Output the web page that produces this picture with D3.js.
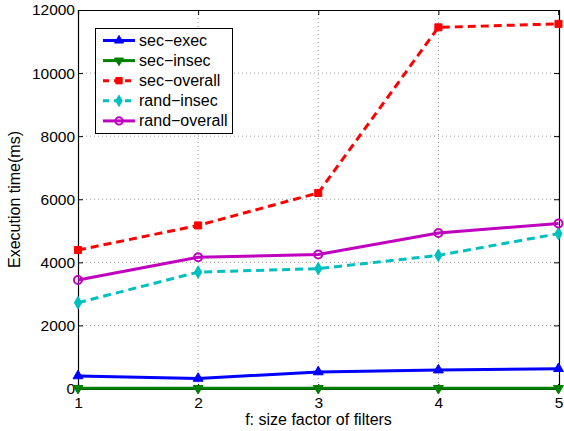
<!DOCTYPE html>
<html>
<head>
<meta charset="utf-8">
<script src="https://cdn.jsdelivr.net/npm/d3@7"></script>
<style>
  body { margin: 0; background: #fff; }
  text { font-family: "Liberation Sans", Arial, sans-serif; }
</style>
</head>
<body>
<div id="chart"></div>
<script>
// data
var factors = [1, 2, 3, 4, 5];
var secExec = [400, 320, 525, 585, 630];
var secInsec = [5, 5, 5, 5, 5];
var secOverall = [4390, 5170, 6200, 11450, 11560];
var randInsec = [2720, 3690, 3800, 4220, 4910];
var randOverall = [3440, 4160, 4250, 4930, 5230];
var yTicks = [0, 2000, 4000, 6000, 8000, 10000, 12000];

var series = [
  { name: "sec\u2212exec", values: secExec, color: "#0000ff", dash: null, marker: "up" },
  { name: "sec\u2212insec", values: secInsec, color: "#007f00", dash: null, marker: "down" },
  { name: "sec\u2212overall", values: secOverall, color: "#ff0000", dash: "8,5", marker: "square" },
  { name: "rand\u2212insec", values: randInsec, color: "#00bfbf", dash: "8,5", marker: "diamond" },
  { name: "rand\u2212overall", values: randOverall, color: "#bf00bf", dash: null, marker: "circle" }
];

var W = 564, H = 431;
var margin = { top: 10, right: 5, bottom: 42, left: 78 },
    width = W - margin.left - margin.right,
    height = H - margin.top - margin.bottom;

var svg = d3.select("#chart").append("svg")
    .attr("width", W)
    .attr("height", H)
    .append("g")
    .attr("transform", "translate(" + margin.left + "," + margin.top + ")");

var x = d3.scaleLinear().domain([1, 5]).range([0, width - 0.5]);
var y = d3.scaleLinear().domain([0, 12000]).range([height - 0.5, 0]);

// grid (dotted)
svg.append("g").selectAll("line")
    .data(factors.slice(1, -1))
    .enter().append("line")
    .attr("x1", function (d) { return x(d); })
    .attr("x2", function (d) { return x(d); })
    .attr("y1", 0).attr("y2", height)
    .attr("stroke", "#999").attr("stroke-width", 1).attr("stroke-dasharray", "1,3");
svg.append("g").selectAll("line")
    .data(yTicks.slice(1, -1))
    .enter().append("line")
    .attr("y1", function (d) { return y(d); })
    .attr("y2", function (d) { return y(d); })
    .attr("x1", 0).attr("x2", width)
    .attr("stroke", "#999").attr("stroke-width", 1).attr("stroke-dasharray", "1,3");

// axes, ticks inside
svg.append("g")
    .attr("transform", "translate(0," + height + ")")
    .call(d3.axisBottom(x).tickValues(factors).tickFormat(d3.format("d")).tickSize(-5).tickPadding(8));
svg.append("g")
    .call(d3.axisLeft(y).tickValues(yTicks).tickFormat(d3.format("d")).tickSize(-5).tickPadding(3));
svg.append("g")
    .attr("transform", "translate(" + width + ",0)")
    .call(d3.axisRight(y).tickValues(yTicks).tickFormat("").tickSize(-5));
svg.append("g")
    .call(d3.axisTop(x).tickValues(factors).tickFormat("").tickSize(-5));

svg.selectAll(".domain").attr("stroke", "#000").attr("stroke-width", 1.2);
svg.selectAll(".tick line").attr("stroke", "#000");
svg.selectAll(".tick text").attr("font-size", 15.5).attr("fill", "#000")
    .style("font-family", "'Liberation Sans', Arial, sans-serif");

// markers
function marker(sel, type, color, k) {
  if (type === "circle") {
    sel.append("circle").attr("r", 4 * k).attr("fill", "none")
       .attr("stroke", color).attr("stroke-width", 2);
  } else if (type === "down") {
    sel.append("path").attr("d", d3.symbol(d3.symbolTriangle, 42 * k * k)())
       .attr("transform", "rotate(180)").attr("fill", color).attr("stroke", color);
  } else {
    var sym = { up: d3.symbolTriangle, square: d3.symbolSquare, diamond: d3.symbolDiamond }[type];
    var size = { up: 42, square: 50, diamond: 45 }[type];
    sel.append("path").attr("d", d3.symbol(sym, size * k * k)())
       .attr("fill", color).attr("stroke", color);
  }
}

var line = d3.line()
    .x(function (d, i) { return x(factors[i]); })
    .y(function (d) { return y(d); });

series.forEach(function (s) {
  svg.append("path")
      .datum(s.values)
      .attr("fill", "none")
      .attr("stroke", s.color)
      .attr("stroke-width", 3)
      .attr("stroke-dasharray", s.dash)
      .attr("d", line);
  s.values.forEach(function (v, i) {
    var g = svg.append("g").attr("transform", "translate(" + x(factors[i]) + "," + y(v) + ")");
    marker(g, s.marker, s.color, 1);
  });
});

// labels
svg.append("text")
    .attr("x", width / 2).attr("y", height + 36)
    .attr("text-anchor", "middle").attr("font-size", 16)
    .text("f: size factor of filters");
svg.append("text")
    .attr("transform", "translate(" + (-58) + "," + (height / 2) + ")rotate(-90)")
    .attr("text-anchor", "middle").attr("font-size", 16)
    .text("Execution time(ms)");

// legend
var lg = svg.append("g").attr("transform", "translate(" + (95 - margin.left) + "," + (28 - margin.top) + ")");
lg.append("rect").attr("x", 0.5).attr("y", 0.5).attr("width", 137).attr("height", 105)
    .attr("fill", "#fff").attr("stroke", "#000").attr("stroke-width", 1);
series.forEach(function (s, i) {
  var yy = 12.5 + i * 20.1;
  lg.append("line").attr("x1", 8).attr("x2", 40).attr("y1", yy).attr("y2", yy)
      .attr("stroke", s.color).attr("stroke-width", 3).attr("stroke-dasharray", s.dash ? "6,5" : null);
  var g = lg.append("g").attr("transform", "translate(24," + yy + ")");
  marker(g, s.marker, s.color, 0.9);
  lg.append("text").attr("x", 44).attr("y", yy + 5.5).attr("font-size", 16).text(s.name);
});
</script>
</body>
</html>
